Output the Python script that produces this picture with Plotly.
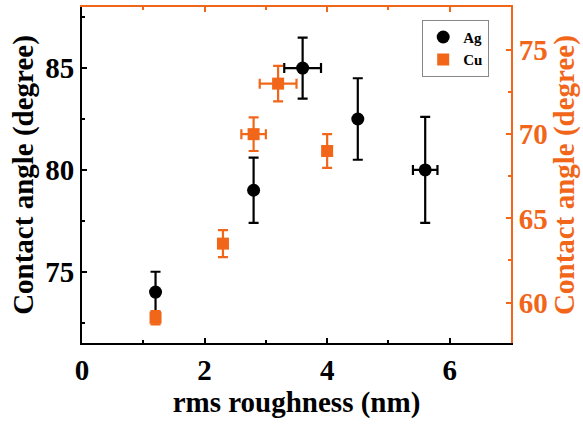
import plotly.graph_objects as go

# Data
ag_x = [1.2, 2.8, 3.6, 4.5, 5.6]
ag_y = [74.0, 79.0, 85.0, 82.5, 80.0]
ag_yerr = [1.0, 1.6, 1.5, 2.0, 2.6]
ag_xerr = [None, None, 0.3, None, 0.2]

cu_x = [1.2, 2.3, 2.8, 3.2, 4.0]
cu_y = [59.1, 63.5, 70.0, 73.0, 69.0]
cu_yerr = [0.4, 0.8, 1.0, 1.05, 1.0]
cu_xerr = [None, None, 0.2, 0.3, None]

x_ticks = [0, 2, 4, 6]
left_ticks = [75, 80, 85]
right_ticks = [60, 65, 70, 75]

ORANGE = "#F2661A"
FONT = "Liberation Serif"
TICKSIZE = 29
TITLESIZE = 29

fig = go.Figure()
fig.add_trace(go.Scatter(
    x=ag_x, y=ag_y, mode="markers", name="Ag",
    marker=dict(symbol="circle", size=13, color="black"),
    error_y=dict(type="data", array=ag_yerr, color="black", thickness=2.2, width=5),
    error_x=dict(type="data", array=ag_xerr, color="black", thickness=2.2, width=5),
    xaxis="x", yaxis="y",
))
fig.add_trace(go.Scatter(
    x=cu_x, y=cu_y, mode="markers", name="Cu",
    marker=dict(symbol="square", size=12, color=ORANGE),
    error_y=dict(type="data", array=cu_yerr, color=ORANGE, thickness=2.2, width=5),
    error_x=dict(type="data", array=cu_xerr, color=ORANGE, thickness=2.2, width=5),
    xaxis="x2", yaxis="y2",
))

fig.update_layout(
    width=583, height=427,
    margin=dict(l=82, r=72, t=7, b=84),
    paper_bgcolor="white", plot_bgcolor="white",
    font=dict(family=FONT, color="black", weight="bold"),
    xaxis=dict(
        range=[0, 7], tickvals=x_ticks, showgrid=False, zeroline=False,
        showline=True, linecolor="black", linewidth=2,
        ticks="inside", ticklen=5, tickwidth=2, tickcolor="black",
        minor=dict(tickvals=[1, 3, 5], ticks="inside", ticklen=3, tickwidth=2, tickcolor="black"),
        tickfont=dict(size=TICKSIZE, family=FONT, weight="bold"),
        title=dict(text="rms roughness (nm)", font=dict(size=TITLESIZE, family=FONT, weight="bold"), standoff=0),
    ),
    xaxis2=dict(
        range=[0, 7], overlaying="x", side="top", showgrid=False, zeroline=False,
        showline=True, linecolor=ORANGE, linewidth=2,
        tickvals=x_ticks, ticks="inside", ticklen=5, tickwidth=2, tickcolor=ORANGE,
        minor=dict(tickvals=[1, 3, 5], ticks="inside", ticklen=3, tickwidth=2, tickcolor=ORANGE),
        showticklabels=False,
    ),
    yaxis=dict(
        range=[71.5, 88], tickvals=left_ticks, showgrid=False, zeroline=False,
        showline=True, linecolor="black", linewidth=2,
        ticks="inside", ticklen=5, tickwidth=2, tickcolor="black",
        minor=dict(tickvals=[72.5, 77.5, 82.5, 87.5], ticks="inside", ticklen=3, tickwidth=2, tickcolor="black"),
        tickfont=dict(size=TICKSIZE, family=FONT, weight="bold"),
        title=dict(text="Contact angle (degree)", font=dict(size=TITLESIZE, family=FONT, weight="bold"), standoff=3),
    ),
    yaxis2=dict(
        range=[57.6, 77.55], tickvals=right_ticks, overlaying="y", side="right",
        showgrid=False, zeroline=False,
        showline=True, linecolor=ORANGE, linewidth=2,
        ticks="inside", ticklen=5, tickwidth=2, tickcolor=ORANGE,
        minor=dict(tickvals=[57.5, 62.5, 67.5, 72.5, 77.5], ticks="inside", ticklen=3, tickwidth=2, tickcolor=ORANGE),
        tickfont=dict(size=TICKSIZE, family=FONT, color=ORANGE, weight="bold"),
        title=dict(text="Contact angle (degree)", font=dict(size=TITLESIZE, family=FONT, color=ORANGE, weight="bold"), standoff=3),
    ),
    showlegend=True,
    legend=dict(
        x=0.793, y=0.962, xanchor="left", yanchor="top",
        bordercolor="#888888", borderwidth=1, bgcolor="white",
        font=dict(size=15, family=FONT, weight="bold"),
        itemwidth=30, tracegroupgap=0,
    ),
)

fig.write_html("out.html")
